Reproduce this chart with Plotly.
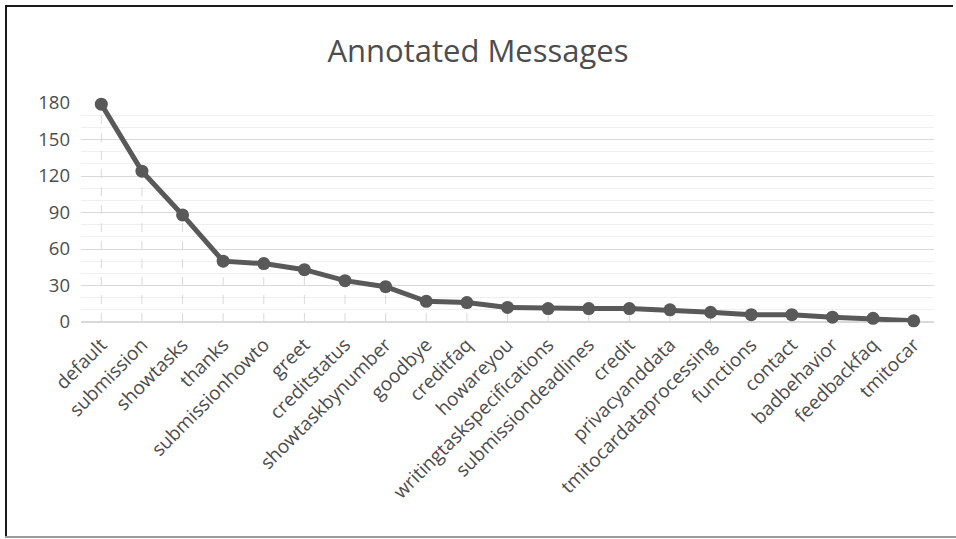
import plotly.graph_objects as go

# Message counts per annotated intent
categories = [
    "default", "submission", "showtasks", "thanks", "submissionhowto",
    "greet", "creditstatus", "showtaskbynumber", "goodbye", "creditfaq",
    "howareyou", "writingtaskspecifications", "submissiondeadlines", "credit",
    "privacyanddata", "tmitocardataprocessing", "functions", "contact",
    "badbehavior", "feedbackfaq", "tmitocar",
]
counts = [179, 124, 88, 50, 48, 43, 34, 29, 17, 16, 12, 11, 11, 11, 10, 8, 6, 6, 4, 3, 1]
y_ticks = [0, 30, 60, 90, 120, 150, 180]

W, H = 956, 539
L, R, T, B = 81, 22, 103, 217
TEXT = "#4d4d4d"
LINE = "#595959"
FONT = "Open Sans"


def px_x(px):
    return (px - L) / (W - L - R)


def px_y(py):
    return 1 - (py - T) / (H - T - B)


# dashed drop lines from each point down to the category axis
drop_x, drop_y = [], []
for c, v in zip(categories, counts):
    drop_x += [c, c, None]
    drop_y += [0, v, None]

fig = go.Figure()
fig.add_trace(go.Scatter(
    x=drop_x, y=drop_y, mode="lines",
    line=dict(color="#D9D9D9", width=1, dash="dash"),
    hoverinfo="skip", showlegend=False,
))
fig.add_trace(go.Scatter(
    x=categories, y=counts, mode="lines+markers",
    line=dict(color=LINE, width=5),
    marker=dict(color=LINE, size=13, line=dict(width=0)),
    cliponaxis=False, showlegend=False,
))

# outer frame of the chart
frame = dict(type="line", xref="paper", yref="paper", layer="above")
fig.add_shape(**frame, x0=px_x(6), x1=px_x(6), y0=px_y(5), y1=px_y(538),
              line=dict(color="#1a1a1a", width=2))
fig.add_shape(**frame, x0=px_x(5), x1=px_x(953), y0=px_y(6), y1=px_y(6),
              line=dict(color="#1a1a1a", width=2))
fig.add_shape(**frame, x0=px_x(5), x1=px_x(956), y0=px_y(537), y1=px_y(537),
              line=dict(color="#9a9a9a", width=2))

fig.update_layout(
    width=W, height=H,
    margin=dict(l=L, r=R, t=T, b=B),
    paper_bgcolor="white", plot_bgcolor="white",
    font=dict(family=FONT, color=TEXT, size=18),
    title=dict(
        text="Annotated Messages", x=0.5, xanchor="center",
        y=1 - 51 / H, yanchor="middle",
        font=dict(family=FONT, size=31, color=TEXT),
    ),
    xaxis=dict(
        type="category", range=[-0.5, len(categories) - 0.5],
        showgrid=False, zeroline=False,
        showline=False, ticks="", tickangle=-45, ticklabelstandoff=7,
        tickfont=dict(family=FONT, size=19, color=TEXT),
    ),
    yaxis=dict(
        range=[0, 180], tickvals=y_ticks,
        showgrid=True, gridcolor="#D9D9D9", gridwidth=1.3,
        zeroline=True, zerolinecolor="#D9D9D9", zerolinewidth=1.5,
        showline=False, ticks="", ticklabelstandoff=10,
        tickfont=dict(family=FONT, size=18.5, color=TEXT),
        minor=dict(dtick=10, showgrid=True, gridcolor="#EFEFEF", gridwidth=1),
    ),
)

fig.write_html("out.html")
